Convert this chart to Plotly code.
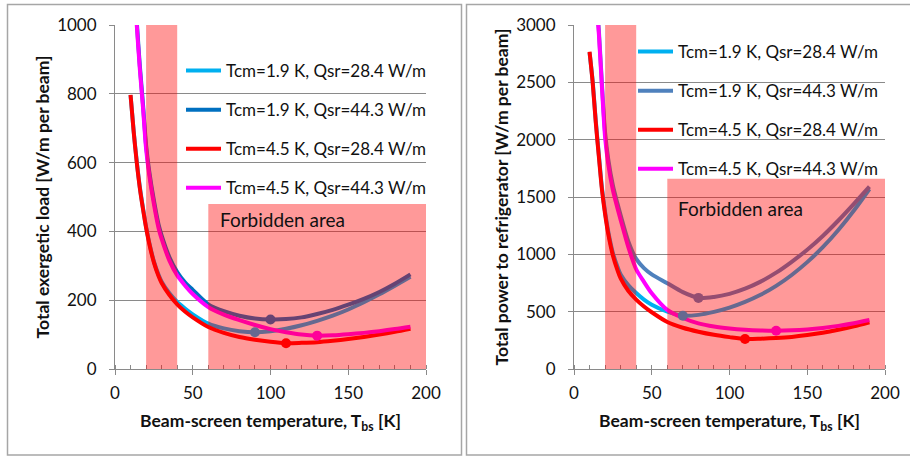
import numpy as np
import plotly.graph_objects as go

# ---------------- data ----------------
T_BS = [10, 12, 14, 16, 18, 20, 22, 25, 28, 30, 35, 40, 45, 50, 60, 70, 80, 90,
        100, 110, 120, 130, 140, 150, 160, 170, 180, 190]

SERIES_NAMES = ["Tcm=1.9 K, Qsr=28.4 W/m", "Tcm=1.9 K, Qsr=44.3 W/m",
                "Tcm=4.5 K, Qsr=28.4 W/m", "Tcm=4.5 K, Qsr=44.3 W/m"]

# Left: total exergetic load [W/m per beam]
EXERGY_19_284 = [796, 692, 603, 528, 468, 413, 368, 313, 274, 254, 220, 195, 176, 159,
                 132, 118, 110, 107, 110, 117, 127, 140, 155, 173, 194, 217, 242, 268]
EXERGY_19_443 = [1360, 1160, 1010, 880, 770, 650, 575, 490, 420, 388, 325, 282, 252, 230,
                 188, 168, 155, 147, 144, 145, 150, 160, 172, 187, 204, 224, 248, 275]
EXERGY_45_284 = [797, 690, 600, 525, 465, 410, 365, 310, 270, 250, 215, 188, 167, 150,
                 122, 105, 93, 85, 79, 75, 76, 78, 82, 87, 93, 100, 108, 117]
EXERGY_45_443 = [1350, 1150, 1000, 870, 760, 640, 565, 480, 410, 378, 315, 272, 243, 218,
                 180, 158, 142, 128, 116, 107, 100, 97, 98, 101, 105, 110, 116, 123]

# Right: total power to refrigerator [W/m per beam]
POWER_19_284 = [2760, 2510, 2165, 1865, 1578, 1368, 1200, 1012, 890, 825, 730, 662, 605, 560,
                500, 465, 472, 498, 535, 585, 647, 725, 820, 932, 1062, 1212, 1382, 1570]
POWER_19_443 = [4300, 3750, 3330, 2950, 2480, 2060, 1830, 1600, 1440, 1340, 1110, 960, 880, 825,
                748, 670, 620, 628, 655, 700, 762, 840, 935, 1040, 1160, 1295, 1440, 1590]
POWER_45_284 = [2767, 2500, 2150, 1850, 1560, 1350, 1180, 990, 860, 790, 680, 605, 545, 495,
                410, 360, 325, 298, 278, 262, 264, 270, 280, 296, 316, 342, 372, 407]
POWER_45_443 = [4250, 3700, 3300, 2920, 2450, 2020, 1790, 1560, 1400, 1300, 1060, 870, 760, 660,
                515, 445, 398, 370, 353, 342, 336, 334, 337, 345, 358, 376, 399, 427]

# Forbidden areas: (T from, T to, value top)
FORBIDDEN_LEFT = [(20, 40, 1000), (60, 200, 480)]
FORBIDDEN_RIGHT = [(20, 40, 3000), (60, 200, 1660)]

# ---------------- styling ----------------
W, H = 910, 456
FONT = "Lato"
GRID = "#8a8a8a"
COLORS_LEFT = ["#00B0F0", "#0070C0", "#FF0000", "#FF00FF"]
COLORS_RIGHT = ["#00B0F0", "#4F81BD", "#FF0000", "#FF00FF"]


def fx(p):
    return p / W


def fy(p):
    return 1 - p / H


fig = go.Figure()

panels = [
    ("x", "y", "legend", [EXERGY_19_284, EXERGY_19_443, EXERGY_45_284, EXERGY_45_443], COLORS_LEFT),
    ("x2", "y2", "legend2", [POWER_19_284, POWER_19_443, POWER_45_284, POWER_45_443], COLORS_RIGHT),
]

for xa, ya, leg, series, colors in panels:
    for name, vals, col in zip(SERIES_NAMES, series, colors):
        fig.add_trace(go.Scatter(
            x=T_BS, y=vals, name=name, mode="lines",
            line=dict(color=col, width=4, shape="spline", smoothing=0.8),
            xaxis=xa, yaxis=ya, legend=leg, legendgroup=leg + name,
            hoverinfo="skip"))
    for name, vals, col in zip(SERIES_NAMES, series, colors):
        i = int(np.argmin(vals))
        fig.add_trace(go.Scatter(
            x=[T_BS[i]], y=[vals[i]], mode="markers", showlegend=False,
            marker=dict(color=col, size=10),
            xaxis=xa, yaxis=ya, hoverinfo="skip"))

tickfont = dict(family=FONT, size=17, color="#111")
titlefont = dict(family=FONT, size=17.5, color="#111", weight="bold")


def xaxis_cfg(domain, anchor):
    return dict(domain=domain, anchor=anchor, range=[0, 200], dtick=50,
                automargin=False,
                ticks="outside", ticklen=5, tickcolor=GRID, tickwidth=1,
                showline=True, linecolor=GRID, linewidth=1, showgrid=False,
                zeroline=False, tickfont=tickfont, ticklabelstandoff=4,
                minor=dict(dtick=10, ticks="inside", ticklen=4, tickcolor=GRID,
                           showgrid=False),
                title=dict(text="Beam-screen temperature, T<sub>bs</sub> [K]",
                           font=titlefont, standoff=12))


def yaxis_cfg(domain, anchor, rng, dtick, title):
    return dict(domain=domain, anchor=anchor, range=rng, dtick=dtick,
                automargin=False,
                ticks="outside", ticklen=5, tickcolor=GRID, tickwidth=1,
                showline=True, linecolor=GRID, linewidth=1, showgrid=True,
                gridcolor=GRID, gridwidth=1, zeroline=False, tickfont=tickfont,
                ticklabelstandoff=9,
                title=dict(text=title, font=titlefont, standoff=3))


ydom = [fy(369), fy(25)]
legend_common = dict(bgcolor="rgba(0,0,0,0)", xanchor="left", yanchor="top",
                     font=dict(family=FONT, size=17, color="#111"),
                     tracegroupgap=14, traceorder="grouped", itemwidth=35)

fig.update_layout(
    width=W, height=H, margin=dict(l=0, r=0, t=0, b=0, autoexpand=False),
    paper_bgcolor="white", plot_bgcolor="white",
    font=dict(family=FONT),
    showlegend=True,
    xaxis=xaxis_cfg([fx(115), fx(426)], "y"),
    yaxis=yaxis_cfg(ydom, "x", [0, 1000], 200,
                    "Total exergetic load [W/m per beam]"),
    xaxis2=xaxis_cfg([fx(574), fx(885)], "y2"),
    yaxis2=yaxis_cfg(ydom, "x2", [0, 3000], 500,
                     "Total power to refrigerator [W/m per beam]"),
    legend=dict(x=fx(181), y=fy(53), **legend_common),
    legend2=dict(x=fx(633), y=fy(34), **legend_common),
)

shapes = []
for xr, yr, areas in (("x", "y", FORBIDDEN_LEFT), ("x2", "y2", FORBIDDEN_RIGHT)):
    for a, b, top in areas:
        shapes.append(dict(type="rect", xref=xr, yref=yr, x0=a, x1=b, y0=0, y1=top,
                           fillcolor="red", opacity=0.4, line=dict(width=0),
                           layer="above"))
# panel borders
shapes.append(dict(type="rect", xref="paper", yref="paper",
                   x0=fx(7.5), x1=fx(461.5), y0=fy(455), y1=fy(4.5),
                   line=dict(color="#a6a6a6", width=1.5), fillcolor="rgba(0,0,0,0)"))
shapes.append(dict(type="rect", xref="paper", yref="paper",
                   x0=fx(466.5), x1=fx(930), y0=fy(455), y1=fy(4.5),
                   line=dict(color="#a6a6a6", width=1.5), fillcolor="rgba(0,0,0,0)"))
fig.update_layout(shapes=shapes)

fig.add_annotation(text="Forbidden area", xref="paper", yref="paper",
                   x=fx(218), y=fy(220), xanchor="left", yanchor="middle",
                   showarrow=False, font=dict(family=FONT, size=19, color="#111"))
fig.add_annotation(text="Forbidden area", xref="paper", yref="paper",
                   x=fx(676), y=fy(208), xanchor="left", yanchor="middle",
                   showarrow=False, font=dict(family=FONT, size=19, color="#111"))

fig.write_html("out.html",
               config={"displayModeBar": False},
               post_script="document.body.style.margin='0';"
                           "document.body.style.overflow='hidden';")
